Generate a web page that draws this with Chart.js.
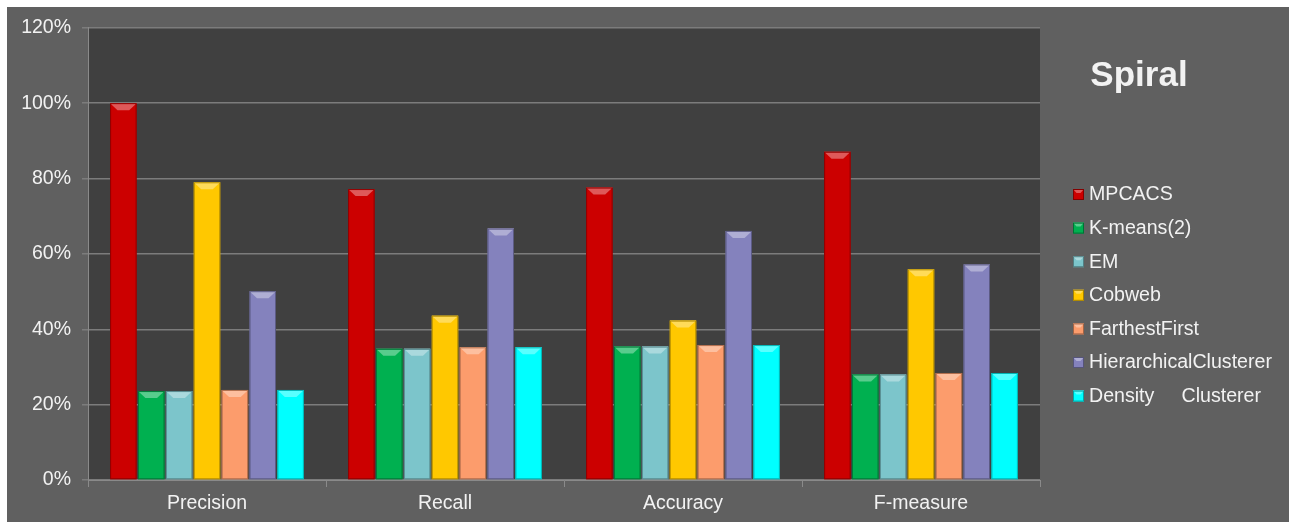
<!DOCTYPE html>
<html>
<head>
<meta charset="utf-8">
<style>
  body { margin: 0; background: #ffffff; }
  #wrap { position: absolute; left: 7px; top: 7px; width: 1282px; height: 515px; background: #606060; }
</style>
</head>
<body>
<div id="wrap"><canvas id="spiralChart" width="1282" height="515"></canvas></div>

<script src="https://cdn.jsdelivr.net/npm/chart.js"></script>
<script>
  var measures = ['Precision', 'Recall', 'Accuracy', 'F-measure'];
  var methods = ['MPCACS', 'K-means(2)', 'EM', 'Cobweb', 'FarthestFirst', 'HierarchicalClusterer', 'Density     Clusterer'];
  var colors = ['#cc0000', '#00b050', '#7cc5cb', '#ffc800', '#fc9c6c', '#8482bd', '#00ffff'];

  // percent per method, in order of measures
  var mpcacs = [100, 77.2, 77.6, 87.1];
  var kmeans = [23.6, 34.8, 35.4, 28.0];
  var em = [23.6, 34.8, 35.4, 28.0];
  var cobweb = [79.0, 43.6, 42.3, 55.9];
  var farthestFirst = [23.9, 35.2, 35.8, 28.4];
  var hierarchical = [50.1, 66.7, 66.1, 57.2];
  var density = [23.9, 35.2, 35.8, 28.4];
  var yTicks = [0, 20, 40, 60, 80, 100, 120];

  var seriesValues = [mpcacs, kmeans, em, cobweb, farthestFirst, hierarchical, density];
  var textColor = '#f2f2f2';
  var fontFamily = '"Liberation Sans", Arial, sans-serif';

  function shade(hex, amt) {
    var n = parseInt(hex.slice(1), 16);
    var r = (n >> 16) & 255, g = (n >> 8) & 255, b = n & 255;
    function f(c) {
      c = amt < 0 ? c * (1 + amt) : c + (255 - c) * amt;
      return Math.round(Math.max(0, Math.min(255, c)));
    }
    return 'rgb(' + f(r) + ',' + f(g) + ',' + f(b) + ')';
  }

  // horizontal gradient so bars look rounded at the edges
  function barFill(color) {
    return function (ctx) {
      var el = ctx.element;
      if (!el || el.width === undefined || isNaN(el.x)) return color;
      var left = el.x - el.width / 2, right = el.x + el.width / 2;
      var g = ctx.chart.ctx.createLinearGradient(left, 0, right, 0);
      g.addColorStop(0, shade(color, -0.35));
      g.addColorStop(0.12, color);
      g.addColorStop(0.85, color);
      g.addColorStop(1, shade(color, -0.4));
      return g;
    };
  }

  var datasets = methods.map(function (name, i) {
    return {
      label: name,
      data: seriesValues[i],
      backgroundColor: barFill(colors[i]),
      borderWidth: 0,
      categoryPercentage: 0.82,
      barPercentage: 0.95
    };
  });

  var backgroundPlugin = {
    id: 'backgrounds',
    beforeDraw: function (chart) {
      var c = chart.ctx, a = chart.chartArea;
      c.save();
      c.fillStyle = '#606060';
      c.fillRect(0, 0, chart.width, chart.height);
      c.fillStyle = '#404040';
      c.fillRect(a.left, a.top, a.right - a.left, a.bottom - a.top);
      c.restore();
    }
  };

  // bevelled cap on top of every bar
  var bevelPlugin = {
    id: 'bevel',
    afterDatasetsDraw: function (chart) {
      var c = chart.ctx;
      c.save();
      chart.data.datasets.forEach(function (ds, i) {
        var meta = chart.getDatasetMeta(i);
        var color = colors[i];
        meta.data.forEach(function (bar) {
          var p = bar.getProps(['x', 'y', 'base', 'width'], true);
          var l = p.x - p.width / 2, r = p.x + p.width / 2, t = p.y;
          var h = 7, inset = p.width * 0.28;
          c.fillStyle = shade(color, 0.35);
          c.beginPath();
          c.moveTo(l, t);
          c.lineTo(r, t);
          c.lineTo(r - inset, t + h);
          c.lineTo(l + inset, t + h);
          c.closePath();
          c.fill();
          c.strokeStyle = shade(color, -0.3);
          c.lineWidth = 1;
          c.strokeRect(l + 0.5, t + 0.5, p.width - 1, p.base - t - 1);
        });
      });
      c.restore();
    }
  };

  // title and legend in the right-hand panel
  var sidePanelPlugin = {
    id: 'sidePanel',
    afterDraw: function (chart) {
      var c = chart.ctx;
      c.save();
      c.fillStyle = textColor;
      c.font = 'bold 35px ' + fontFamily;
      c.textAlign = 'center';
      c.textBaseline = 'alphabetic';
      c.fillText('Spiral', 1132, 79);

      c.font = '19.6px ' + fontFamily;
      c.textAlign = 'left';
      c.textBaseline = 'middle';
      chart.data.datasets.forEach(function (ds, i) {
        var y = 187 + i * 33.6;
        var col = colors[i];
        c.fillStyle = col;
        c.fillRect(1066, y - 5, 11, 11);
        c.fillStyle = shade(col, 0.35);
        c.beginPath();
        c.moveTo(1066, y - 5);
        c.lineTo(1077, y - 5);
        c.lineTo(1073.5, y - 1);
        c.lineTo(1069.5, y - 1);
        c.closePath();
        c.fill();
        c.strokeStyle = shade(col, -0.35);
        c.lineWidth = 1;
        c.strokeRect(1066.5, y - 4.5, 10, 10);
        c.fillStyle = textColor;
        c.fillText(ds.label, 1082, y + 1);
      });
      c.restore();
    }
  };

  var ctx = document.getElementById('spiralChart').getContext('2d');
  var chart = new Chart(ctx, {
    type: 'bar',
    data: { labels: measures, datasets: datasets },
    plugins: [backgroundPlugin, bevelPlugin, sidePanelPlugin],
    options: {
      responsive: false,
      animation: false,
      devicePixelRatio: 1,
      layout: { padding: { top: 10, right: 249, left: 0, bottom: 0 } },
      plugins: {
        legend: { display: false },
        tooltip: { enabled: false }
      },
      scales: {
        x: {
          grid: {
            offset: true,
            drawOnChartArea: false,
            drawTicks: true,
            tickLength: 7,
            color: '#8a8a8a',
            lineWidth: 1
          },
          border: { display: true, color: '#8a8a8a', width: 1 },
          ticks: {
            color: textColor,
            padding: 5,
            font: { family: fontFamily, size: 19.5 }
          },
          afterFit: function (scale) { scale.height = 42; }
        },
        y: {
          min: 0,
          max: 120,
          afterBuildTicks: function (scale) {
            scale.ticks = yTicks.map(function (v) { return { value: v }; });
          },
          grid: {
            color: '#7c7c7c',
            lineWidth: 1.5,
            drawTicks: true,
            tickLength: 6
          },
          border: { display: true, color: '#8a8a8a', width: 1 },
          ticks: {
            color: textColor,
            padding: 11,
            font: { family: fontFamily, size: 19.5, lineHeight: 1 },
            callback: function (v) { return v + '%'; }
          },
          afterFit: function (scale) { scale.width = 81; }
        }
      }
    }
  });
</script>
</body>
</html>
